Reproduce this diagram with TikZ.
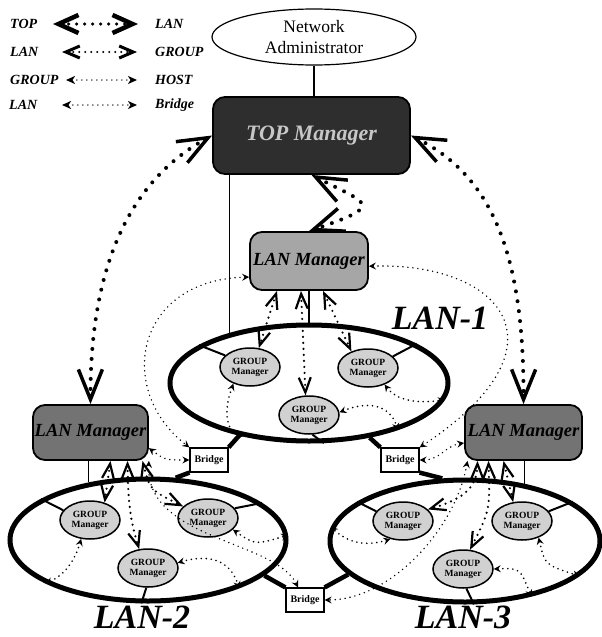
\documentclass[tikz,border=0pt]{standalone}
\usepackage{fontspec}
\setmainfont{Liberation Serif}
\usetikzlibrary{arrows.meta,shapes.geometric}
\tikzset{
  legtext/.style={anchor=west,inner sep=0pt,font={\bfseries\itshape\fontsize{14}{14}\selectfont}},
  admin/.style={draw,ellipse,line width=1.2pt,minimum width=204pt,minimum height=56pt,inner sep=0pt,align=center,font={\fontsize{17.5}{21}\selectfont}},
  mgr/.style={draw,line width=1.8pt,rounded corners=12pt,inner sep=0pt,font={\bfseries\itshape\fontsize{18.5}{18.5}\selectfont}},
  lanell/.style={draw,ellipse,line width=5pt,inner sep=0pt},
  gm/.style={draw,ellipse,line width=1.5pt,fill=black!18,inner sep=0pt,minimum width=60pt,minimum height=38pt,align=center,font={\bfseries\fontsize{9.5}{10}\selectfont}},
  bridge/.style={draw,line width=1.2pt,fill=white,minimum width=38pt,minimum height=24pt,inner sep=0pt,font={\bfseries\fontsize{10}{10}\selectfont}},
  biglab/.style={inner sep=0pt,font={\bfseries\itshape\fontsize{34}{34}\selectfont}},
  solidln/.style={line width=1.2pt},
  gmln/.style={line width=2pt},
  cable/.style={line width=4.5pt},
  tl/.style={line width=4pt,line cap=round,dash pattern=on 0pt off 10pt,
    arrows={Straight Barb[length=30pt,width=24pt,line width=3.5pt]-Straight Barb[length=30pt,width=24pt,line width=3.5pt]}},
  lg/.style={line width=2.4pt,line cap=round,dash pattern=on 0pt off 6pt,
    arrows={Straight Barb[length=15pt,width=12pt,line width=2.2pt]-Straight Barb[length=15pt,width=12pt,line width=2.2pt]}},
  gh/.style={line width=1.8pt,line cap=round,dash pattern=on 0pt off 5pt,
    arrows={Stealth[length=7pt,width=7pt,inset=2.5pt]-Stealth[length=7pt,width=7pt,inset=2.5pt]}},
  lb/.style={line width=1.6pt,line cap=round,dash pattern=on 0pt off 5pt,
    arrows={Stealth[length=7pt,width=7pt,inset=2.5pt]-Stealth[length=7pt,width=7pt,inset=2.5pt]}},
  legA/.style={line width=3.5pt,line cap=round,dash pattern=on 0pt off 8pt,
    arrows={Straight Barb[length=20pt,width=18pt,line width=4.5pt]-Straight Barb[length=20pt,width=18pt,line width=4.5pt]}},
  legB/.style={line width=2.2pt,line cap=round,dash pattern=on 0pt off 6pt,
    arrows={Straight Barb[length=14pt,width=12pt,line width=3pt]-Straight Barb[length=14pt,width=12pt,line width=3pt]}},
  legC/.style={line width=1.5pt,line cap=round,dash pattern=on 0pt off 5pt,
    arrows={Stealth[length=9pt,width=8pt,inset=2.5pt]-Stealth[length=9pt,width=8pt,inset=2.5pt]}}
}
\begin{document}
\begin{tikzpicture}[x=1pt,y=-1pt]
\useasboundingbox (0,0) rectangle (602,637);

% legend
\node[legtext] (lt1a) at (10,24) {TOP};
\node[legtext] (lt1b) at (155,24) {LAN};
\node[legtext] (lt2a) at (10,52) {LAN};
\node[legtext] (lt2b) at (155,52) {GROUP};
\node[legtext] (lt3a) at (10,80) {GROUP};
\node[legtext] (lt3b) at (155,80) {HOST};
\node[legtext] (lt4a) at (9,105) {LAN};
\node[legtext] (lt4b) at (155,105) {Bridge};
\coordinate (la1) at (53,24); \coordinate (lb1) at (138,24);
\coordinate (la2) at (62,52); \coordinate (lb2) at (137,52);
\coordinate (la3) at (66,80); \coordinate (lb3) at (137,80);
\coordinate (la4) at (62,105); \coordinate (lb4) at (137,105);
\draw[legA] (la1) -- (lb1);
\draw[legB] (la2) -- (lb2);
\draw[legC] (la3) -- (lb3);
\draw[legC] (la4) -- (lb4);

% main nodes
\node[admin] (admin) at (314,37) {Network\\Administrator};
\node[mgr,fill=black!82,text=black!22,minimum width=197pt,minimum height=77pt,font={\bfseries\itshape\fontsize{22}{22}\selectfont}] (top) at (311.5,135.5) {TOP Manager};
\node[mgr,fill=black!35,minimum width=118pt,minimum height=58pt] (lan1m) at (309,261) {LAN Manager};
\node[mgr,fill=black!55,minimum width=115pt,minimum height=55pt] (lan2m) at (90.5,432.5) {LAN Manager};
\node[mgr,fill=black!55,minimum width=117pt,minimum height=55pt] (lan3m) at (523.5,432.5) {LAN Manager};

\node[lanell,minimum width=278pt,minimum height=116pt] (lan1) at (309,383) {};
\node[lanell,minimum width=276pt,minimum height=122pt] (lan2) at (148,540) {};
\node[lanell,minimum width=270pt,minimum height=122pt] (lan3) at (465,541) {};

\node[gm] (g1a) at (250,367) {GROUP\\Manager};
\node[gm] (g1b) at (368,368) {GROUP\\Manager};
\node[gm] (g1c) at (309,415) {GROUP\\Manager};
\node[gm] (g2a) at (90,520) {GROUP\\Manager};
\node[gm] (g2b) at (208,518) {GROUP\\Manager};
\node[gm] (g2c) at (148,568) {GROUP\\Manager};
\node[gm] (g3a) at (403,521) {GROUP\\Manager};
\node[gm] (g3b) at (522,521) {GROUP\\Manager};
\node[gm] (g3c) at (463,569) {GROUP\\Manager};

\node[bridge] (brL) at (209,460) {Bridge};
\node[bridge] (brR) at (400,460) {Bridge};
\node[bridge] (brB) at (305,600) {Bridge};

\node[biglab] (lab1) at (440,318) {LAN-1};
\node[biglab] (lab2) at (142,617) {LAN-2};
\node[biglab] (lab3) at (463,617) {LAN-3};

% solid connections
\draw[solidln] (admin.south) -- (admin.south |- top.north);
\draw[solidln] (lan1.148) -- (lan1.148 |- top.south);
\draw[solidln] (lan1m.south) -- (lan1.north);
\draw[solidln] (lan2m.south -| lan2.136) -- (lan2.136);
\draw[solidln] (lan3m.south -| lan3.44) -- (lan3.44);

\draw[gmln] (g1a.155) -- (lan1.161);
\draw[gmln] (g1b.25) -- (lan1.20);
\draw[gmln] (g1c.-80) -- (lan1.-76);
\draw[gmln] (g2a.160) -- (lan2.159);
\draw[gmln] (g2b.20) -- (lan2.18);
\draw[gmln] (g2c.-95) -- (lan2.-96);
\draw[gmln] (g3a.160) -- (lan3.160);
\draw[gmln] (g3b.20) -- (lan3.20);
\draw[gmln] (g3c.-80) -- (lan3.-82);

\draw[cable] (brL.north east) -- (lan1.-143);
\draw[cable] (brL.south west) -- (lan2.66);
\draw[cable] (brR.north west) -- (lan1.-42);
\draw[cable] (brR.south east) -- (lan3.110);
\draw[cable] (brB.north west) -- (lan2.-17);
\draw[cable] (brB.north east) -- (lan3.-164);

% TOP <-> LAN
\draw[tl] (top.west) .. controls (140,175) and (90,250) .. (lan2m.north);
\draw[tl] (top.east) .. controls (490,175) and (524,250) .. (lan3m.north);
\draw[tl] (top.south) .. controls (370,205) and (385,205) .. (lan1m.north);

% LAN <-> GROUP
\draw[lg] ([xshift=-32pt]lan1m.south) -- (g1a.65);
\draw[lg] ([xshift=-8pt]lan1m.south) -- (g1c.100);
\draw[lg] ([xshift=14pt]lan1m.south) -- (g1b.135);
\draw[lg] ([xshift=20pt]lan2m.south) -- (g2a.50);
\draw[lg] ([xshift=37pt]lan2m.south) .. controls (128,510) and (132,525) .. (g2c.115);
\draw[lg] ([xshift=52pt]lan2m.south) .. controls (150,490) .. (g2b.155);
\draw[lg] ([xshift=-46pt]lan3m.south) .. controls (477,490) and (460,500) .. (g3a.25);
\draw[lg] ([xshift=-35pt]lan3m.south) .. controls (490,510) .. (g3c.70);
\draw[lg] ([xshift=-20pt]lan3m.south) -- (g3b.115);

% LAN <-> Bridge
\draw[lb] (lan1m.195) .. controls (135,280) and (115,390) .. (brL.north west);
\draw[lb] (lan1m.-5) .. controls (500,262) and (575,345) .. (brR.north east);
\draw[lb] (lan2m.-15) .. controls (165,460) .. (brL.west);
\draw[lb] (lan2m.south east) .. controls (145,540) and (275,540) .. ([xshift=-7pt]brB.north);
\draw[lb] (lan3m.190) .. controls (445,446) and (440,460) .. (brR.east);
\draw[lb] ([xshift=-56pt]lan3m.south) .. controls (455,530) and (390,600) .. (brB.east);

% GROUP <-> HOST
\draw[gh] (g1a.-135) .. controls (222,415) and (228,432) .. (lan1.-141);
\draw[gh] (g1b.-45) .. controls (400,405) and (430,402) .. (lan1.-7);
\draw[gh] (g1c.5) .. controls (375,398) and (392,410) .. (lan1.-28);
\draw[gh] (g2a.-115) .. controls (75,560) and (65,575) .. (lan2.-157);
\draw[gh] (g2b.-25) .. controls (255,545) .. (lan2.2);
\draw[gh] (g2c.10) .. controls (215,552) and (232,565) .. (lan2.-28);
\draw[gh] (g3a.-125) .. controls (362,548) and (345,540) .. (lan3.174);
\draw[gh] (g3b.-45) .. controls (545,565) .. (lan3.-17);
\draw[gh] (g3c.0) .. controls (520,568) .. (lan3.-40);
\end{tikzpicture}
\end{document}
